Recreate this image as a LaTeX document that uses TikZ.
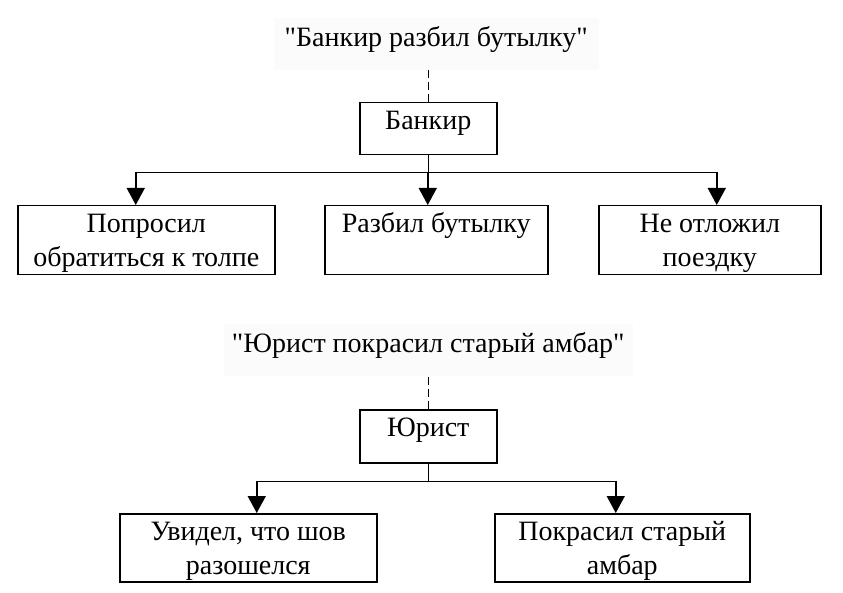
\documentclass[tikz,border=0pt]{standalone}
\usepackage{fontspec}
\setmainfont{Liberation Serif}
\usetikzlibrary{arrows.meta,positioning}
\definecolor{titlegray}{RGB}{251,251,251}
\newcommand{\tstrut}{\rule{0pt}{27pt}}
\newcommand{\bstrut}[1]{\rule[-#1]{0pt}{#1}}

\begin{document}
\begin{tikzpicture}[x=1pt,y=-1pt,>={Triangle[width=18pt,length=17pt]},line width=1.5pt,font=\fontsize{28}{34}\selectfont]
 \tikzstyle{box}=[draw,anchor=north west,inner sep=0pt,align=center]
 \tikzstyle{title}=[fill=titlegray,anchor=north west,inner sep=0pt,text height=16pt,text depth=11pt]
 \tikzstyle{link}=[dashed,dash pattern=on 8pt off 4pt]
 \useasboundingbox (0,0) rectangle (843,593);
   % first sentence
   \node[title,minimum width=325pt,minimum height=52pt] (title1) at (273,17) {\textquotedbl Банкир разбил бутылку\textquotedbl};
   \node[box,minimum width=137pt,minimum height=52pt] (bankir) at (359,102) {\tstrut Банкир\bstrut{25pt}};
   \node[box,minimum width=257pt,minimum height=69pt] (poprosil) at (17,205) {\tstrut Попросил\\обратиться к толпе\bstrut{8pt}};
   \node[box,minimum width=223pt,minimum height=69pt] (razbil) at (324,205) {\tstrut Разбил бутылку\\\bstrut{8pt}};
   \node[box,minimum width=222pt,minimum height=69pt] (neotlozhil) at (598,205) {\tstrut Не отложил\\поездку\bstrut{8pt}};
   % second sentence
   \node[title,minimum width=409pt,minimum height=52pt] (title2) at (223,323) {\textquotedbl Юрист покрасил старый амбар\textquotedbl};
   \node[box,minimum width=137pt,minimum height=53pt] (urist) at (359,409) {\tstrut Юрист\bstrut{26pt}};
   \node[box,minimum width=257pt,minimum height=68pt] (uvidel) at (119,513) {\tstrut Увидел, что шов\\разошелся\bstrut{7pt}};
   \node[box,minimum width=255pt,minimum height=68pt] (pokrasil) at (494,513) {\tstrut Покрасил старый\\амбар\bstrut{7pt}};
    \draw[link] (bankir.north |- title1.south) -- (bankir.north);
    \draw[link] (urist.north |- title2.south) -- (urist.north);
    \draw[->] (bankir.south) -- ++(0,17) -| ([xshift=-10.5pt]poprosil.north);
    \draw[->] (bankir.south) -- ++(0,17) -| ([xshift=-8.5pt]razbil.north);
    \draw[->] (bankir.south) -- ++(0,17) -| ([xshift=7pt]neotlozhil.north);
    \draw[->] (urist.south) -- ++(0,18) -| ([xshift=8.5pt]uvidel.north);
    \draw[->] (urist.south) -- ++(0,18) -| ([xshift=-6.5pt]pokrasil.north);
\end{tikzpicture}
\end{document}
